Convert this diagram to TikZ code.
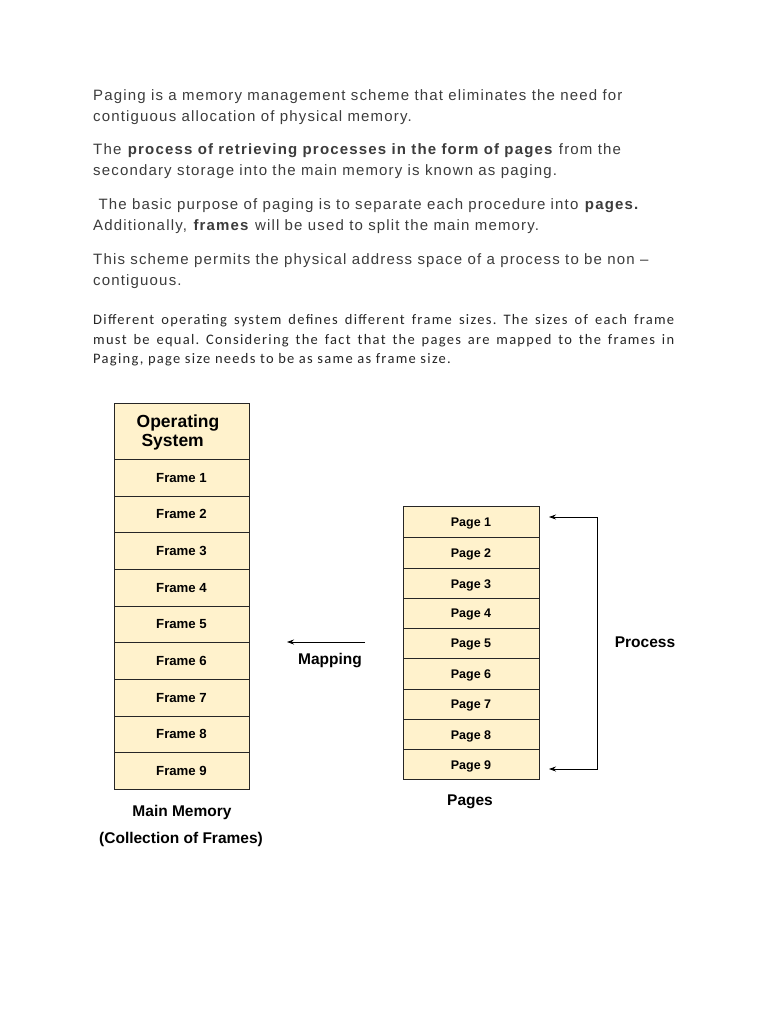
\documentclass[tikz,border=0pt]{standalone}
\usepackage{fontspec}
\setmainfont{Liberation Sans}
\newfontfamily\spread[LetterSpace=7.8]{Liberation Sans}
\newfontfamily\calib[LetterSpace=8.9]{Carlito}
\usetikzlibrary{arrows.meta}
\definecolor{txt}{RGB}{60,60,60}
\definecolor{cream}{RGB}{255,242,204}
\tikzset{
  para/.style={anchor=base west, inner sep=0pt, text=txt, font=\spread\fontsize{15}{18}\selectfont},
  cal/.style={anchor=base west, inner sep=0pt, text=black!85, font=\calib\fontsize{14.5}{17}\selectfont},
  cell/.style={draw=black!85, line width=0.8pt, fill=cream, minimum width=135pt, inner sep=0pt, font=\bfseries\fontsize{13.2}{15}\selectfont},
  pcell/.style={draw=black!85, line width=0.8pt, fill=cream, minimum width=136pt, inner sep=0pt},
  ptxt/.style={inner sep=0pt, font=\bfseries\fontsize{12.5}{14}\selectfont},
  lbl/.style={inner sep=0pt, font=\bfseries\fontsize{15.5}{18}\selectfont},
  arr/.style={line width=0.8pt, -{Stealth[length=7pt,width=5pt]}},
  barr/.style={line width=0.8pt, {Stealth[length=7pt,width=5pt]}-{Stealth[length=7pt,width=5pt]}}
}
\begin{document}
\frenchspacing
\begin{tikzpicture}[x=1pt,y=-1pt]
\useasboundingbox[fill=white] (0,0) rectangle (768,1024);
% paragraphs
\node[para] (l1) at (93,101) {Paging is a memory management scheme that eliminates the need for};
\node[para] (l2) at (93,122) {contiguous allocation of physical memory.};
\node[para] (l3) at (93,155) {The \textbf{process of retrieving processes in the form of pages} from the};
\node[para] (l4) at (93,176) {secondary storage into the main memory is known as paging.};
\node[para] (l5) at (93,210) {\ The basic purpose of paging is to separate each procedure into \textbf{pages.}};
\node[para] (l6) at (93,231) {Additionally, \textbf{frames} will be used to split the main memory.};
\node[para] (l7) at (93,264) {This scheme permits the physical address space of a process to be non \textendash};
\node[para] (l8) at (93,285) {contiguous.};
\node[cal] (c1) at (93,324) {\makebox[581pt][s]{Different operating system defines different frame sizes. The sizes of each frame}};
\node[cal] (c2) at (93,344) {\makebox[581pt][s]{must be equal. Considering the fact that the pages are mapped to the frames in}};
\node[cal] (c3) at (93,363) {Paging, page size needs to be as same as frame size.};
% main memory
\node[cell, minimum height=56pt] (os) at (181.5,431) {};
\node[inner sep=0pt, align=left, font=\bfseries\fontsize{17.5}{20}\selectfont] (ost) at (178,432) {Operating\\[-1pt]\ System};
\foreach \i/\a/\b in {1/459/496,2/496/532,3/532/569,4/569/606,5/606/642,6/642/679,7/679/716,8/716/752,9/752/789}{
  \node[cell, minimum height={\b-\a}, text depth=0pt] (f\i) at (181.5,{(\a+\b)/2}) {Frame \i};
}
\node[lbl] (mm) at (182,812) {Main Memory};
\node[lbl] (cf) at (181,839) {(Collection of Frames)};
% pages
\foreach \i/\a/\b in {1/506/537,2/537/568,3/568/598,4/598/628,5/628/658,6/658/689,7/689/719,8/719/749,9/749/779}{
  \node[pcell, minimum height={\b-\a}] (p\i) at (471,{(\a+\b)/2}) {};
  \node[ptxt] (pt\i) at (471,{(\a+\b)/2+2}) {Page \i};
}
\node[lbl] (pg) at (470,802) {Pages};
% mapping
\coordinate (m1) at (365,642);
\coordinate (m2) at (287,642);
\draw[arr] (m1) -- (m2);
\node[lbl] (map) at (330,661) {Mapping};
% process
\coordinate (pa) at (549,517);
\coordinate (pt) at (597,517);
\coordinate (pb) at (597,769);
\coordinate (pz) at (549,769);
\draw[barr] (pa) -- (pt) -- (pb) -- (pz);
\node[lbl] (proc) at (645,642) {Process};
\end{tikzpicture}
\end{document}
